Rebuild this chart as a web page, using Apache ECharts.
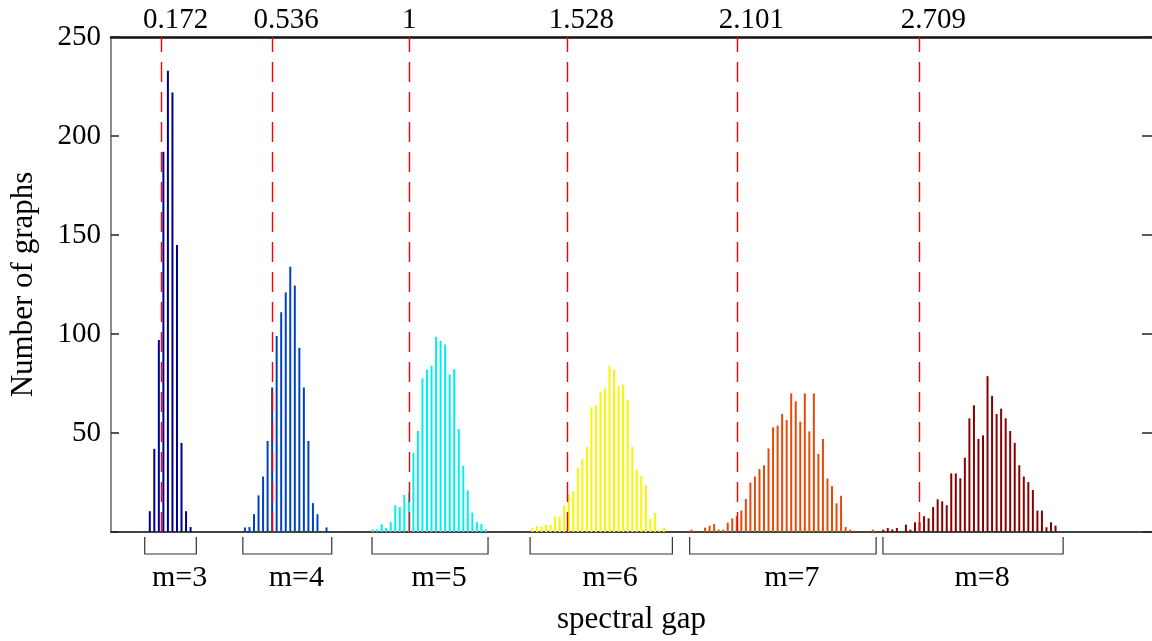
<!DOCTYPE html>
<html>
<head>
<meta charset="utf-8">
<script src="https://cdn.jsdelivr.net/npm/echarts@6/dist/echarts.min.js"></script>
<style>
  html, body { margin: 0; padding: 0; background: #fff; }
  #main { width: 1152px; height: 641px; }
</style>
</head>
<body>
<div id="main"></div>
<script>
// histogram bin width (spectral gap units)
var binWidth = 0.0152;

// group names, colours and first bin centre for each m
var groupNames = ['m=3', 'm=4', 'm=5', 'm=6', 'm=7', 'm=8'];
var groupColors = ['#000090', '#0042c4', '#00f0f0', '#f6f600', '#e64a08', '#880000'];
var groupStarts = [0.130, 0.449, 0.877, 1.413, 1.946, 2.589];

// bar heights (number of graphs)
var m3Counts = [10.5, 42, 97, 192, 233, 222, 145, 45, 10.5, 2.5];
var m4Counts = [2.3, 2.5, 9, 18.5, 28, 46, 73, 99, 111, 121, 134, 124.5, 93, 73, 46, 14.6, 9, 0, 2.3];
var m5Counts = [1.3, 1.3, 3.9, 2, 5, 13.5, 12.5, 18.7, 20, 40, 51, 77.6, 82, 84, 98.6, 96.6, 94.7, 79.6,
  82.3, 52, 33.5, 21, 9.8, 5, 4, 1.3];
var m6Counts = [2, 2.9, 2.9, 3.7, 3.7, 7.7, 7.7, 13.5, 19, 20.7, 32.5, 36.9, 43, 63, 64, 70.7, 72.5, 84,
  82, 73.7, 74.5, 66.8, 43, 31.6, 28.3, 23.7, 6.7, 9.6, 1.2, 2];
var m7Counts = [1.2, 0, 0, 2.2, 3.2, 4, 1.2, 1.2, 4.7, 6.9, 8, 10.8, 16.7, 25, 28, 31.8, 33.7, 42.2, 52.8,
  53.7, 59.6, 56.5, 70, 66, 55.7, 70, 50.8, 70, 39.4, 47, 27, 23.2, 14.5, 18.3, 2.5, 1.2, 0, 0, 0, 0, 1.2];
var m8Counts = [1.2, 2, 1.3, 2, 0, 3.7, 1.2, 4.9, 5, 8, 6.9, 12.6, 16.5, 15.5, 13.5, 29.6, 29.6, 27.1, 37.5,
  57.4, 64, 47, 48.8, 78.7, 68.8, 59.6, 62.3, 57.4, 51, 45, 33.7, 28, 25.2, 21.2, 10.8, 10.8, 2.4, 4.9, 3.2];
var groupCounts = [m3Counts, m4Counts, m5Counts, m6Counts, m7Counts, m8Counts];

// brackets under the axis, [from, to] in spectral gap units
var groupRanges = [[0.113, 0.286], [0.442, 0.740], [0.875, 1.264], [1.405, 1.882], [1.940, 2.565], [2.588, 3.192]];

// red dashed reference lines
var lineValues = [0.172, 0.536, 1, 1.528, 2.101, 2.709];
var lineLabels = ['0.172', '0.536', '1', '1.528', '2.101', '2.709'];

// y axis
var yMax = 250;
var yStep = 50;

var FONT = '"Liberation Serif", "Times New Roman", serif';

var chart = echarts.init(document.getElementById('main'));

var series = groupNames.map(function (name, g) {
  return {
    name: name,
    type: 'bar',
    barWidth: 2,
    barGap: '-100%',
    itemStyle: { color: groupColors[g] },
    data: groupCounts[g].map(function (c, i) {
      return [groupStarts[g] + i * binWidth, c];
    })
  };
});

// the dashed lines and their labels on top
series.push({
  name: 'ref',
  type: 'line',
  data: [],
  markLine: {
    silent: true,
    symbol: ['none', 'none'],
    lineStyle: { color: '#ff0000', type: [20, 10], width: 1.4 },
    label: {
      position: 'end',
      distance: 2,
      color: '#000',
      fontSize: 29,
      fontFamily: FONT
    },
    data: lineValues.map(function (v, i) {
      return {
        xAxis: v,
        label: {
          formatter: lineLabels[i],
          offset: [lineLabels[i].indexOf('.') >= 0 ? 14 : 0, 0]
        }
      };
    })
  }
});

// brackets with m=.. labels under the x axis
series.push({
  name: 'brackets',
  type: 'custom',
  clip: false,
  silent: true,
  encode: { x: [0, 1] },
  data: groupRanges,
  renderItem: function (params, api) {
    var p0 = api.coord([api.value(0), 0]);
    var p1 = api.coord([api.value(1), 0]);
    var y = p0[1];
    return {
      type: 'group',
      children: [{
        type: 'polyline',
        shape: { points: [[p0[0], y + 5], [p0[0], y + 22], [p1[0], y + 22], [p1[0], y + 5]] },
        style: { stroke: '#333', lineWidth: 1.2, fill: null }
      }, {
        type: 'text',
        style: {
          text: groupNames[params.dataIndex],
          x: (p0[0] + p1[0]) / 2 + 9,
          y: y + 46,
          align: 'center',
          verticalAlign: 'middle',
          fontSize: 30,
          fontFamily: FONT,
          fill: '#000'
        }
      }]
    };
  }
});

chart.setOption({
  animation: false,
  grid: { left: 110, right: 0, top: 37, bottom: 109 },
  xAxis: [{
    type: 'value',
    min: 0,
    max: 3.49,
    name: 'spectral gap',
    nameLocation: 'middle',
    nameGap: 72,
    nameTextStyle: { color: '#000', fontSize: 31, fontFamily: FONT },
    axisLine: { onZero: false, lineStyle: { color: '#444', width: 2 } },
    axisTick: { show: false },
    axisLabel: { show: false },
    splitLine: { show: false }
  }, {
    type: 'value',
    position: 'top',
    min: 0,
    max: 3.49,
    axisLine: { show: true, onZero: false, lineStyle: { color: '#111', width: 2.5 } },
    axisTick: { show: false },
    axisLabel: { show: false },
    splitLine: { show: false }
  }],
  yAxis: [{
    type: 'value',
    min: 0,
    max: yMax,
    interval: yStep,
    name: 'Number of graphs',
    nameLocation: 'middle',
    nameGap: 72,
    nameTextStyle: { color: '#000', fontSize: 31, fontFamily: FONT },
    axisLine: { show: true, onZero: false, lineStyle: { color: '#666', width: 1.5 } },
    axisTick: { show: true, inside: true, length: 8, lineStyle: { color: '#222', width: 1.5 } },
    axisLabel: {
      color: '#000',
      fontSize: 29,
      fontFamily: FONT,
      margin: 10,
      formatter: function (v) { return v === 0 ? '' : v; }
    },
    splitLine: { show: false }
  }, {
    type: 'value',
    position: 'right',
    min: 0,
    max: yMax,
    interval: yStep,
    axisLine: { show: false, onZero: false },
    axisTick: { show: true, inside: true, length: 10, lineStyle: { color: '#222', width: 1.5 } },
    axisLabel: { show: false },
    splitLine: { show: false }
  }],
  series: series
});
</script>
</body>
</html>
